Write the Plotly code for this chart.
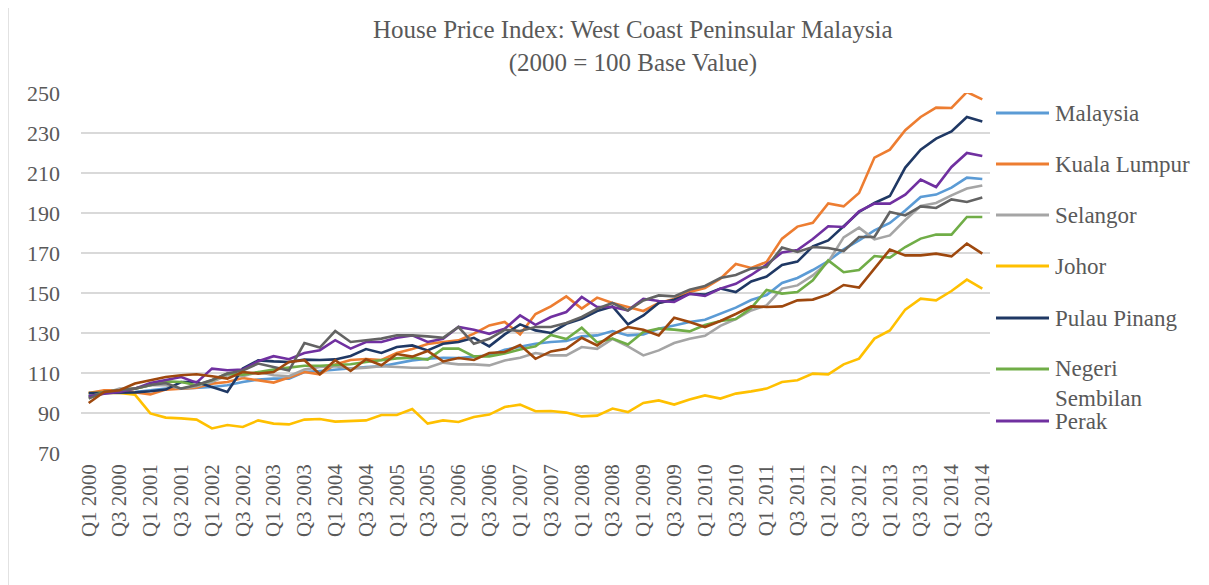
import plotly.graph_objects as go

# ---------------- data ----------------
quarters = [f"Q{q} {y}" for y in range(2000, 2015) for q in range(1, 5)][:59]
tick_labels = quarters[::2]

malaysia = [99, 100, 100, 100.5, 101.4, 102.2, 102.2, 102.5, 103, 103.9, 105.5, 106.7, 107.2, 107.2, 110.5, 111, 111.7, 112.2, 113, 113.4, 115,
            116.3, 117.1, 117.6, 117.5, 118, 118.8, 121.6, 123, 124.6, 125.5, 126, 128.3, 128.8, 131, 128.8, 129.3, 132.1, 133.8, 135.5, 136.6, 139.7, 142.7, 146.5, 149,
            155, 157.5, 161.5, 166, 171.8, 176.3, 181.3, 185, 191.3, 198, 199.2, 202.7, 207.7, 207]
kuala_lumpur = [100, 101.4, 101.4, 100.5, 99.3, 101.7, 102.2, 102.7, 104.7, 105.5, 107.5, 106.3, 105.2, 107.7, 110.5, 109.3, 114.3, 116.5, 117, 116.5, 120,
                122, 124.5, 125.5, 126.3, 129.7, 133.8, 135.5, 129.3, 139.5, 143.3, 148.3, 142.2, 147.7, 145, 143, 141, 145, 147, 150.5, 152.5, 157.2, 164.5, 162.5, 165.5,
                177.2, 183.2, 185.1, 194.8, 193.3, 200, 217.7, 221.7, 231.4, 238, 242.7, 242.5, 250.5, 246.8]
selangor = [98, 99.7, 102.2, 102.2, 103.9, 103.9, 102.2, 103.4, 105.5, 108.9, 108.4, 110.5, 108.9, 108.4, 111.7, 113, 113.4, 112.2, 112.7, 113.4, 113,
            112.6, 112.6, 115.2, 114.3, 114.3, 113.8, 116.3, 117.6, 120, 118.8, 118.8, 123, 122.1, 127.1, 123.3, 118.8, 121.3, 125, 127.1, 128.6, 133.6, 137, 141.3, 143.8,
            152.2, 153.8, 158.8, 165.5, 177.8, 182.7, 176.8, 178.8, 186.5, 193.5, 195, 198.8, 202.2, 203.8]
johor = [100, 100.2, 100, 99.2, 89.8, 87.7, 87.3, 86.7, 82.3, 84, 83, 86.3, 84.7, 84.3, 86.7, 87, 85.7, 86, 86.3, 89, 89,
         92, 84.7, 86.3, 85.5, 88, 89.2, 93, 94.2, 90.9, 91, 90.2, 88.3, 88.7, 92.2, 90.5, 95, 96.3, 94.2, 96.7, 98.8, 97.2, 99.7, 100.8, 102.2,
         105.5, 106.4, 109.7, 109.3, 114.3, 117.2, 127.2, 131.3, 141.7, 147.2, 146.3, 151, 156.7, 152.2]
pulau_pinang = [100, 100, 100.2, 100.3, 100.9, 101.7, 105.5, 105.5, 103, 100.5, 112.2, 116.3, 115.8, 115.5, 116.7, 116.5, 116.8, 118.5, 122, 120, 123,
                123.8, 121.3, 124.6, 125.5, 127.6, 123.3, 129.3, 134.3, 131.3, 130, 134.6, 137.1, 141, 143.3, 134.3, 138.8, 145, 146.6, 149.6, 149.2, 152.2, 150.5, 155.8, 158.2,
                164, 165.7, 173.3, 176.3, 183.3, 190.5, 195, 198.5, 212.7, 221.7, 227.2, 230.8, 238, 235.8]
negeri_sembilan = [98, 100.5, 101.4, 102.2, 103.9, 105.8, 105.5, 103.9, 106.4, 109.7, 109.2, 110.5, 111.7, 112.7, 113.6, 113.6, 113.9, 114.4, 115.5, 116.4, 117.3,
                   117.7, 116.7, 122.2, 122.2, 118.3, 118.3, 119.7, 121.8, 123.3, 129, 127, 132.6, 125.3, 127.2, 124.3, 130.5, 132.2, 131.7, 130.8, 134, 136, 137, 142.5, 151.5,
                   149.7, 150.5, 156.3, 166.3, 160.4, 161.5, 168.5, 167.7, 173, 177.2, 179.2, 179.2, 188, 188]
perak = [98.4, 99.7, 100.5, 102.2, 105, 106.4, 108, 105.2, 112.2, 111.4, 111.7, 115.9, 118.4, 116.9, 120, 121.4, 126.4, 122.2, 125.5, 125.5, 127.6,
         128.8, 125.5, 127.1, 133, 131.6, 129.6, 132.1, 138.8, 134.1, 138, 140.5, 148, 143, 143, 141.3, 147.1, 146, 145.5, 149.6, 148.5, 152.2, 154.6, 159, 164.2,
         170.3, 171.5, 177, 183.4, 183, 190.8, 194.7, 194.7, 199.2, 206.7, 203, 213, 220, 218.5]
kedah = [97.2, 100.5, 101.4, 102.2, 104, 105, 102.2, 104, 106.5, 109.7, 111.3, 114.7, 113, 111.3, 125, 122.7, 131, 125.5, 126.4, 127.2, 128.9,
         128.8, 128.3, 127.6, 133, 124.6, 127.1, 131.6, 131, 133, 133, 135, 138, 142.1, 145, 141.3, 146.3, 148.8, 148.3, 151.6, 153.5, 157.5, 159, 162.2, 163,
         172.7, 170.5, 173, 172.5, 171, 178, 178, 190.5, 188.8, 193.3, 192.5, 196.8, 195.5, 197.7]
melaka = [95, 100.5, 101.4, 104.7, 106.4, 108, 108.9, 109.4, 108.4, 107.2, 110.5, 109.7, 110.5, 115.5, 116.4, 109.4, 116.4, 111, 116.9, 113.9, 119.5,
          118.2, 121, 115.8, 117.5, 116.5, 120, 120.5, 124, 117.1, 120.8, 122.1, 127.6, 123.8, 129.3, 133, 131.6, 128.8, 137.6, 135.5, 133, 136, 139.5, 143.3, 143,
          143.3, 146.3, 146.7, 149.3, 154, 152.7, 162.2, 171.7, 168.8, 168.8, 169.7, 168.3, 174.7, 169.7]

series_names = ["Malaysia", "Kuala Lumpur", "Selangor", "Johor", "Pulau Pinang", "Negeri Sembilan", "Perak", "Kedah", "Melaka"]
series_values = [malaysia, kuala_lumpur, selangor, johor, pulau_pinang, negeri_sembilan, perak, kedah, melaka]
series_colors = ["#5B9BD5", "#ED7D31", "#A5A5A5", "#FFC000", "#1F3864", "#70AD47", "#7030A0", "#636363", "#9E480E"]
legend_labels = ["Malaysia", "Kuala Lumpur", "Selangor", "Johor", "Pulau Pinang", "Negeri<br>Sembilan", "Perak"]

# ---------------- layout geometry (page pixels) ----------------
OFF = 8                      # default body margin of the html page
W, H = 1209 - OFF, 585 - OFF
PX0, PX1 = 81, 990           # plot area left/right in page pixels
PY0, PY1 = 93, 453           # plot area top/bottom in page pixels
ML, MT = PX0 - OFF, PY0 - OFF
MR = W - (PX1 - OFF)
MB = H - (PY1 - OFF)
PW, PH = PX1 - PX0, PY1 - PY0
FONT = "Liberation Serif, Times New Roman, serif"
TXT = "#595959"

def px_x(px):
    return (px - PX0) / PW

def px_y(py):
    return (PY1 - py) / PH

fig = go.Figure()
for name, vals, col in zip(series_names, series_values, series_colors):
    fig.add_trace(go.Scatter(x=quarters, y=vals, mode="lines", name=name,
                             line=dict(color=col, width=2.6), showlegend=False))

shapes = []
annotations = []
legend_rows = [113, 164, 215, 266, 318, 369, 421]
for lab, col, row in zip(legend_labels, series_colors, legend_rows):
    shapes.append(dict(type="line", xref="paper", yref="paper",
                       x0=px_x(996), x1=px_x(1049), y0=px_y(row), y1=px_y(row),
                       line=dict(color=col, width=3)))
    if "<br>" in lab:
        annotations.append(dict(xref="paper", yref="paper", x=px_x(1053), y=px_y(row - 15),
                                xanchor="left", yanchor="top", text=lab, showarrow=False,
                                align="left", font=dict(family=FONT, size=23, color=TXT)))
    else:
        annotations.append(dict(xref="paper", yref="paper", x=px_x(1053), y=px_y(row),
                                xanchor="left", yanchor="middle", text=lab, showarrow=False,
                                font=dict(family=FONT, size=23, color=TXT)))

# chart-area border (left edge visible)
shapes.append(dict(type="line", xref="paper", yref="paper", x0=px_x(8), x1=px_x(8),
                   y0=px_y(0), y1=px_y(600), line=dict(color="#D9D9D9", width=1.5)))

annotations.append(dict(xref="paper", yref="paper", x=px_x(633), y=px_y(46),
                        xanchor="center", yanchor="middle", showarrow=False,
                        text="House Price Index: West Coast Peninsular Malaysia<br>(2000 = 100 Base Value)",
                        font=dict(family=FONT, size=25, color=TXT)))

fig.update_layout(
    width=W, height=H,
    margin=dict(l=ML, r=MR, t=MT, b=MB, autoexpand=False),
    paper_bgcolor="white", plot_bgcolor="white",
    showlegend=False,
    shapes=shapes, annotations=annotations,
    font=dict(family=FONT, color=TXT),
)
fig.update_xaxes(type="category", range=[-0.5, len(quarters) - 0.5],
                 tickmode="array", tickvals=tick_labels, ticktext=tick_labels,
                 tickangle=-90, tickfont=dict(family=FONT, size=21, color=TXT),
                 showgrid=False, zeroline=False, showline=False, ticks="",
                 ticklabelstandoff=6)
fig.update_yaxes(range=[70, 250], tick0=70, dtick=20,
                 tickfont=dict(family=FONT, size=22, color=TXT),
                 showgrid=True, gridcolor="#D9D9D9", gridwidth=1.6,
                 zeroline=False, showline=False, ticks="", ticklabelstandoff=20)

fig.write_html("out.html")
